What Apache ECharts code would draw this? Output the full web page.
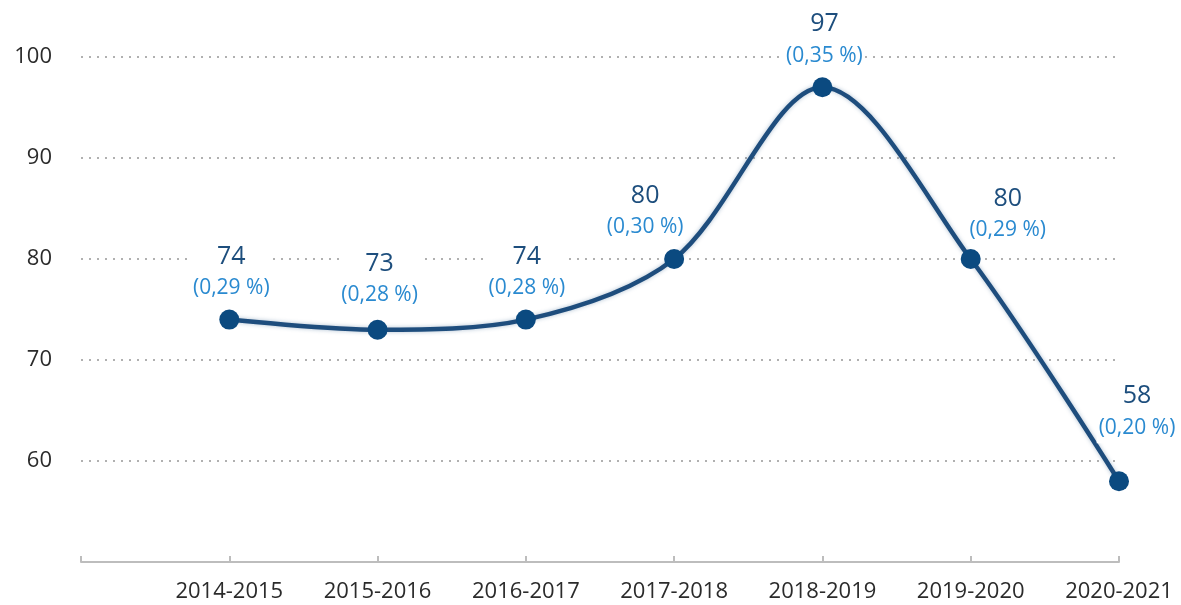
<!DOCTYPE html>
<html>
<head>
<meta charset="utf-8">
<script src="https://cdn.jsdelivr.net/npm/echarts@6/dist/echarts.min.js"></script>
<style>
html,body{margin:0;padding:0;background:#fff;}
#c{width:1181px;height:605px;}
</style>
</head>
<body>
<div id="c"></div>
<script>
// Data
const categories = ['', '2014-2015', '2015-2016', '2016-2017', '2017-2018', '2018-2019', '2019-2020', '2020-2021'];
const values = [null, 74, 73, 74, 80, 97, 80, 58];
const shares = ['', '0,29', '0,28', '0,28', '0,30', '0,35', '0,29', '0,20'];
const yTicks = [60, 70, 80, 90, 100];

// Label placement tweaks (style only)
const labelOffsets = [[0,0],[2,0],[2,-3],[1,0],[-29,0],[2,0],[37,3],[18,-22]];

const FONT = "'Open Sans', sans-serif";
const seriesData = values.map((v, i) => ({
  value: v,
  label: { offset: labelOffsets[i] }
}));

const chart = echarts.init(document.getElementById('c'), null, {renderer: 'canvas'});
chart.setOption({
  animation: false,
  backgroundColor: '#ffffff',
  grid: { left: 81, right: 62, top: 57, bottom: 43, containLabel: false },
  xAxis: {
    type: 'category',
    data: categories,
    boundaryGap: false,
    axisLine: { show: true, lineStyle: { color: '#bdbdbd', width: 2 } },
    axisTick: { show: true, inside: true, length: 6, alignWithLabel: true, lineStyle: { color: '#bdbdbd', width: 2 } },
    axisLabel: { color: '#2b2b2b', fontSize: 22, fontFamily: FONT, margin: 19, interval: 0 },
    splitLine: { show: false }
  },
  yAxis: {
    type: 'value',
    min: 50,
    max: 100,
    interval: 10,
    axisLine: { show: false },
    axisTick: { show: false },
    axisLabel: {
      color: '#2b2b2b', fontSize: 22, fontFamily: FONT, margin: 29,
      formatter: v => (yTicks.indexOf(v) >= 0 ? String(v) : '')
    },
    splitLine: { show: true, lineStyle: { color: '#b0b0b0', width: 2, type: [2, 6] } }
  },
  series: [{
    type: 'line',
    data: seriesData,
    smooth: 0.32,
    connectNulls: false,
    symbol: 'circle',
    symbolSize: 20,
    lineStyle: { color: '#1e4d7d', width: 4.5, shadowColor: 'rgba(30,77,125,0.35)', shadowBlur: 4 },
    itemStyle: { color: '#0b4a80' },
    z: 3,
    label: {
      show: true,
      position: 'top',
      distance: 6,
      backgroundColor: '#ffffff',
      padding: [0, 2],
      formatter: p => (p.value == null ? '' : '{v|' + p.value + '}\n{p|(' + shares[p.dataIndex] + ' %)}'),
      rich: {
        v: { color: '#1d4e7d', fontSize: 25, fontFamily: FONT, lineHeight: 32, align: 'center' },
        p: { color: '#2a8ad0', fontSize: 21, fontFamily: FONT, lineHeight: 31, align: 'center' }
      }
    }
  }]
});
</script>
</body>
</html>
